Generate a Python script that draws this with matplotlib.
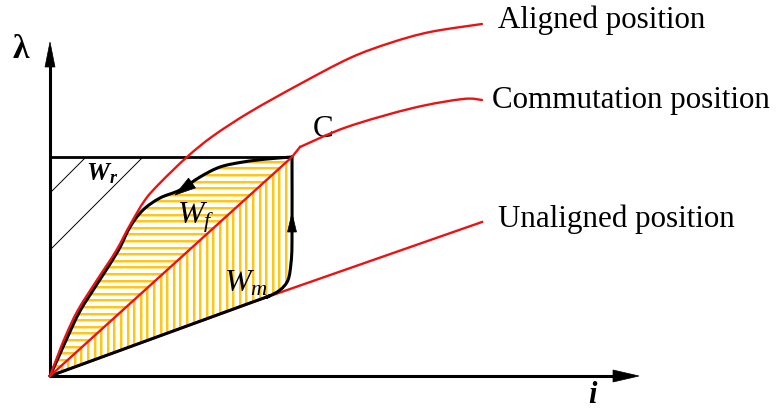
import numpy as np
import matplotlib
matplotlib.use("Agg")
import matplotlib.pyplot as plt
from matplotlib.patches import Polygon, PathPatch
from matplotlib.path import Path

# Flux-linkage (lambda) versus current (i) curves of a switched reluctance machine
aligned_i = [0, 8, 16, 28, 47, 66, 80, 95, 110, 137, 163, 200, 250, 300, 340, 380, 432]
aligned_l = [0, 21, 41, 66, 96, 125, 151, 176, 193, 219, 240, 264, 292, 318, 333, 344, 352]

commut_i = [0, 242, 250, 297, 363, 413, 432]
commut_l = [0, 219, 229, 249, 268, 277, 276]

unaligned_i = [0, 200, 432]
unaligned_l = [0, 73, 154]

# Energy-conversion loop: rising branch (origin -> C) and falling branch (C -> origin)
loop_up_i = [0, 200, 217, 230, 238, 241, 242, 242]
loop_up_l = [0, 73, 79, 86, 96, 113, 136, 219]
loop_down_i = [242, 217, 193, 170, 150, 130, 110, 93, 80, 68, 49, 30, 18, 9, 0]
loop_down_l = [219, 217, 214, 209, 199, 186, 178, 166, 149, 125, 95, 65, 40, 20, 0]

point_c = (242, 219)
curve_labels = ["Aligned position", "Commutation position", "Unaligned position"]

SERIF = "Liberation Serif"
RED = "#ee1111"
BLACK = "black"
YELLOW_CORE = "#ffbf00"
YELLOW_EDGE = "#ffe48a"

plt.rcParams["mathtext.fontset"] = "custom"
plt.rcParams["mathtext.rm"] = "Liberation Serif"
plt.rcParams["mathtext.it"] = "Liberation Serif:italic"
plt.rcParams["mathtext.bf"] = "Liberation Serif:bold:italic"


def smooth_path(xs, ys, close=False):
    """Cubic Bezier path through the given points (Catmull-Rom tangents)."""
    p = np.column_stack([xs, ys]).astype(float)
    n = len(p)
    verts = [p[0]]
    codes = [Path.MOVETO]
    for k in range(n - 1):
        p0 = p[max(k - 1, 0)]
        p1, p2 = p[k], p[k + 1]
        p3 = p[min(k + 2, n - 1)]
        verts += [p1 + (p2 - p0) / 6.0, p2 - (p3 - p1) / 6.0, p2]
        codes += [Path.CURVE4] * 3
    if close:
        verts.append(p[0])
        codes.append(Path.CLOSEPOLY)
    return Path(verts, codes)


fig = plt.figure(figsize=(7.76, 4.12), dpi=100)
ax = fig.add_axes([0, 0, 1, 1])
ax.set_xlim(-50, 726)
ax.set_ylim(-36, 376)
ax.axis("off")


def draw_curve(xs, ys, color, lw, z):
    ax.add_patch(PathPatch(smooth_path(xs, ys), facecolor="none", edgecolor=color,
                           lw=lw, zorder=z, capstyle="round", joinstyle="round"))


# Hatched regions: W_f (horizontal), W_m (vertical)
wf_patch = PathPatch(smooth_path(loop_down_i, loop_down_l, close=True),
                     facecolor="none", edgecolor="none")
wm_patch = PathPatch(smooth_path(loop_up_i, loop_up_l, close=True),
                     facecolor="none", edgecolor="none")
ax.add_patch(wf_patch)
ax.add_patch(wm_patch)

for lam in np.arange(3, point_c[1], 6.6):
    for lw, col in ((2.2, YELLOW_EDGE), (1.2, YELLOW_CORE)):
        ln, = ax.plot([0, point_c[0] + 5], [lam, lam], color=col, lw=lw,
                      solid_capstyle="butt", zorder=1)
        ln.set_clip_path(wf_patch)
for cur in np.arange(5, point_c[0] + 1, 6.6):
    for lw, col in ((2.2, YELLOW_EDGE), (1.2, YELLOW_CORE)):
        ln, = ax.plot([cur, cur], [0, point_c[1] + 5], color=col, lw=lw,
                      solid_capstyle="butt", zorder=1)
        ln.set_clip_path(wm_patch)

# W_r region: between the lambda axis, the top line and the aligned curve
n_top = aligned_l.index(point_c[1]) + 1
wr_pts = [(0, 0)] + list(zip(aligned_i[:n_top], aligned_l[:n_top])) + [(0, point_c[1])]
wr_poly = Polygon(wr_pts, closed=True, facecolor="none", edgecolor="none")
ax.add_patch(wr_poly)
for c in (183, 126):
    ln, = ax.plot([0, point_c[1] - c], [c, point_c[1]], color=BLACK, lw=0.7, zorder=2)
    ln.set_clip_path(wr_poly)

# Unaligned curve sits beneath the loop's rising branch
ax.plot(unaligned_i, unaligned_l, color=RED, lw=1.7, zorder=2.5)

# Loop outline and top line
draw_curve(loop_up_i, loop_up_l, BLACK, 2.2, 3)
draw_curve(loop_down_i, loop_down_l, BLACK, 2.2, 3)
ax.plot([0, point_c[0]], [point_c[1], point_c[1]], color=BLACK, lw=2.0, zorder=3,
        solid_capstyle="butt")


# Direction arrows on the loop
def arrow_head(tip, tail, half_w):
    tip = np.array(tip, float)
    tail = np.array(tail, float)
    d = tip - tail
    nrm = np.array([-d[1], d[0]]) / np.hypot(*d)
    pts = [tip, tail + nrm * half_w, tail - nrm * half_w]
    ax.add_patch(Polygon(pts, closed=True, facecolor=BLACK, edgecolor=BLACK,
                         lw=0.5, zorder=5))


arrow_head((125, 181), (142, 193), 6)
arrow_head((242, 163), (242, 144), 4.5)

# Aligned and commutation curves
draw_curve(aligned_i, aligned_l, RED, 1.7, 4)
ax.plot(commut_i[:3], commut_l[:3], color=RED, lw=1.7, zorder=4, solid_joinstyle="round")
draw_curve(commut_i[2:], commut_l[2:], RED, 1.7, 4)

# Axes with arrowheads
ax.plot([0, 0], [0, 312], color=BLACK, lw=2.2, zorder=3, solid_capstyle="butt")
ax.plot([0, 566], [0, 0], color=BLACK, lw=2.2, zorder=3, solid_capstyle="butt")
arrow_head((0, 334), (0, 309), 5)
arrow_head((589, 0), (563, 0), 6)

# Text
fs = 22.3
ax.text(448, 348, curve_labels[0], fontsize=fs, family=SERIF, ha="left", va="baseline")
ax.text(442, 268, curve_labels[1], fontsize=fs, family=SERIF, ha="left", va="baseline")
ax.text(448, 149, curve_labels[2], fontsize=fs, family=SERIF, ha="left", va="baseline")
ax.text(263, 239, "C", fontsize=fs, family=SERIF, ha="left", va="baseline")

ax.text(-37, 318, "λ", fontsize=24, family=SERIF, weight="bold", ha="left", va="baseline")
ax.text(538, -27, "i", fontsize=22, family=SERIF, weight="bold", style="italic",
        ha="left", va="baseline")

# Energy areas
ax.text(36, 196, r"$\mathbf{W_r}$", fontsize=18.5, ha="left", va="baseline", zorder=6)
ax.text(127, 153, r"$W_f$", fontsize=23, ha="left", va="baseline", zorder=6)
ax.text(174, 84, r"$W_m$", fontsize=23, ha="left", va="baseline", zorder=6)

fig.savefig("out.png", dpi=100)
